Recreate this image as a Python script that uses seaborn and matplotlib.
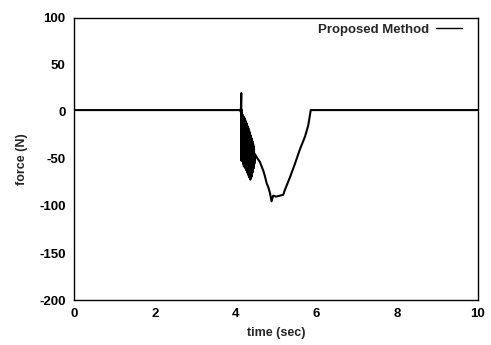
import matplotlib
matplotlib.use('Agg')
import numpy as np
import pandas as pd
import matplotlib.pyplot as plt
import seaborn as sns

# force trace (time in sec, force in N)
time_s = [0.0, 1.0, 2.0, 3.0, 4.12,
          4.13, 4.14, 4.145, 4.155, 4.165, 4.175, 4.185, 4.195, 4.205, 4.215,
          4.225, 4.235, 4.245, 4.255, 4.265, 4.275, 4.285, 4.295, 4.305, 4.315,
          4.325, 4.335, 4.345, 4.355, 4.365, 4.375, 4.385, 4.395, 4.405, 4.415,
          4.425, 4.435, 4.445, 4.455, 4.465, 4.48,
          4.55, 4.60, 4.69, 4.73, 4.77, 4.81, 4.85, 4.89, 4.93, 5.00,
          5.10, 5.18, 5.22, 5.35, 5.47, 5.59, 5.72, 5.80, 5.83, 5.86,
          6.5, 7.5, 8.5, 10.0]
force_n = [2, 2, 2, 2, 2,
           0, 20, -52, 2, -50, -3, -55, -5, -58, -6,
           -58, -8, -60, -10, -62, -12, -64, -15, -66, -17,
           -68, -20, -70, -22, -72, -25, -70, -28, -68, -31,
           -64, -34, -60, -37, -55, -45,
           -50, -53, -63, -69, -76, -80, -86, -95, -89, -90,
           -89, -88, -83, -69, -55, -40, -26, -14, -6, 2,
           2, 2, 2, 2]

x_ticks = [0, 2, 4, 6, 8, 10]
y_ticks = [100, 50, 0, -50, -100, -150, -200]

df = pd.DataFrame({'time': time_s, 'force': force_n})

sns.set_style('white')
plt.rcParams['font.family'] = ['Liberation Sans', 'DejaVu Sans']
plt.rcParams['axes.unicode_minus'] = False
plt.rcParams['font.weight'] = 'bold'

fig = plt.figure(figsize=(4.91, 3.45), dpi=100)
ax = fig.add_axes([0.1507, 0.1304, 0.8228, 0.8176])

sns.lineplot(data=df, x='time', y='force', ax=ax, color='black',
             linewidth=1.5, label='Proposed Method', sort=False)

ax.set_xlim(0, 10)
ax.set_ylim(-200, 100)
ax.set_xticks(x_ticks)
ax.set_yticks(y_ticks)
ax.tick_params(axis='both', length=0, labelsize=9.5, pad=6, colors='black')
for s in ax.spines.values():
    s.set_color('black')
    s.set_linewidth(1.0)

ax.set_xlabel('time (sec)', fontsize=9, labelpad=5, fontweight='bold')
ax.set_ylabel('force (N)', fontsize=9, labelpad=8, fontweight='bold')

leg = ax.legend(loc='upper right', bbox_to_anchor=(0.975, 1.0), frameon=False,
                markerfirst=False, prop={'size': 9.5, 'weight': 'bold'},
                handlelength=2.0, borderaxespad=0.05, handletextpad=0.5)
for h in leg.get_lines():
    h.set_linewidth(1.0)

fig.savefig('out.png', dpi=100)
